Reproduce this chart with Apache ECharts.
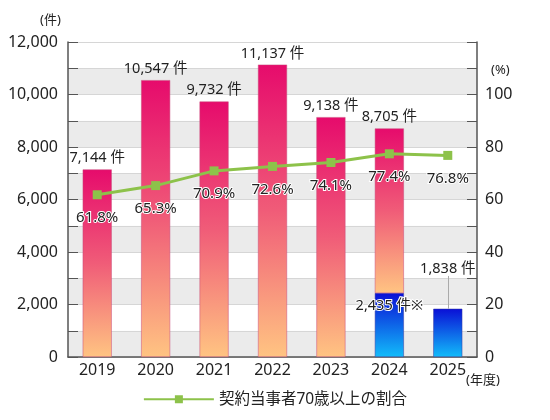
<!DOCTYPE html>
<html><head><meta charset="utf-8">
<script src="https://cdn.jsdelivr.net/npm/echarts@6/dist/echarts.min.js"></script>
<style>html,body{margin:0;padding:0;background:#fff}#c{width:550px;height:420px}</style>
</head><body><div id="c"></div>
<script>
const years = ['2019','2020','2021','2022','2023','2024','2025'];
const totalCases = [7144, 10547, 9732, 11137, 9138, 8705, null];
const blueCases = [null, null, null, null, null, 2435, 1838];
const ratio70 = [61.8, 65.3, 70.9, 72.6, 74.1, 77.4, 76.8];
const leftTicks = [0, 2000, 4000, 6000, 8000, 10000, 12000];
const rightTicks = [0, 20, 40, 60, 80, 100];

const FONT = '"Noto Sans", "Noto Sans CJK JP", sans-serif';
const pinkData = totalCases.map((v, i) => v == null ? null : (blueCases[i] != null ? v - blueCases[i] : v));
const fmt = v => v.toLocaleString('en-US');

const chart = echarts.init(document.getElementById('c'));
chart.setOption({
  animation: false,
  textStyle: { fontFamily: FONT, color: '#222' },
  grid: { left: 68, right: 73, top: 42, bottom: 63 },
  legend: {
    bottom: 8, left: 'center', itemWidth: 70, itemHeight: 10,
    itemGap: 10,
    textStyle: { fontSize: 15.5, color: '#222', fontFamily: FONT },
    data: ['契約当事者70歳以上の割合']
  },
  xAxis: {
    type: 'category', data: years, boundaryGap: true,
    axisLine: { lineStyle: { color: '#555', width: 1.5 } },
    axisTick: { inside: true, length: 8, lineStyle: { color: '#555' } },
    axisLabel: { fontSize: 16, color: '#222', margin: 5, fontFamily: FONT }
  },
  yAxis: [
    {
      type: 'value', min: 0, max: 12000, interval: 1000,
      axisLine: { show: true, lineStyle: { color: '#555', width: 1.5 } },
      axisTick: { show: true, inside: true, length: 10, lineStyle: { color: '#555' } },
      axisLabel: { fontSize: 16, color: '#222', margin: 10, fontFamily: FONT,
        formatter: v => leftTicks.includes(v) ? fmt(v) : '' },
      splitLine: { show: true, lineStyle: { color: '#d6d6d6' } },
      splitArea: { show: true, areaStyle: { color: ['#ebebeb', '#ffffff'] } }
    },
    {
      type: 'value', min: 0, max: 120, interval: 10, position: 'right',
      axisLine: { show: true, lineStyle: { color: '#555', width: 1.5 } },
      axisTick: { show: true, inside: true, length: 10, lineStyle: { color: '#555' } },
      axisLabel: { fontSize: 16, color: '#222', margin: 8, fontFamily: FONT,
        formatter: v => rightTicks.includes(v) ? String(v) : '' },
      splitLine: { show: false }
    }
  ],
  graphic: [
    { type: 'text', left: 40, top: 14, style: { text: '(件)', fontSize: 13, fill: '#222', fontFamily: FONT } },
    { type: 'text', left: 491, top: 64, style: { text: '(%)', fontSize: 13, fill: '#222', fontFamily: FONT } },
    { type: 'text', left: 466, top: 374, style: { text: '(年度)', fontSize: 13, fill: '#222', fontFamily: FONT } }
  ],
  series: [
    {
      name: 'blue', type: 'bar', stack: 'a', barWidth: 29,
      data: blueCases.map((v, i) => {
        if (v == null) return null;
        if (i === 5) return { value: v, label: { show: true, position: 'insideTop', distance: 6,
          formatter: () => fmt(v) + ' 件※', fontSize: 14.5, color: '#222', textBorderColor: '#fff', textBorderWidth: 2 } };
        return { value: v, label: { show: true, position: 'top', distance: 33,
          formatter: () => fmt(v) + ' 件', fontSize: 14.5, color: '#222' } };
      }),
      itemStyle: {
        color: new echarts.graphic.LinearGradient(0, 0, 0, 1, [
          { offset: 0, color: '#0a0fd6' }, { offset: 1, color: '#12bcfa' }]),
        borderColor: '#3a3aa0', borderWidth: 0.5
      },
      z: 3
    },
    {
      name: 'pink', type: 'bar', stack: 'a', barWidth: 29,
      data: pinkData.map((v, i) => v == null ? null : {
        value: v,
        label: { show: true, position: 'top', distance: 4, formatter: () => fmt(totalCases[i]) + ' 件',
          fontSize: 14.5, color: '#222' }
      }),
      itemStyle: {
        color: new echarts.graphic.LinearGradient(0, 0, 0, 1, [
          { offset: 0, color: '#e60b6c' }, { offset: 0.5, color: '#f05c78' }, { offset: 1, color: '#ffc482' }]),
        borderColor: '#c84a7a', borderWidth: 0.5
      },
      z: 3
    },
    {
      name: 'leader', type: 'bar', stack: 'a', barWidth: 1, silent: true,
      data: blueCases.map((v, i) => (i === 6 ? 0 : null)),
      markLine: {
        silent: true, symbol: 'none', label: { show: false },
        lineStyle: { color: '#aaaaaa', type: 'solid', width: 1 },
        data: [[{ coord: [years[6], blueCases[6]] }, { coord: [years[6], blueCases[6] + 1250] }]]
      },
      z: 2
    },
    {
      name: '契約当事者70歳以上の割合', type: 'line', yAxisIndex: 1, data: ratio70,
      symbol: 'rect', symbolSize: 9,
      lineStyle: { color: '#8dc24a', width: 3 },
      itemStyle: { color: '#8dc24a' },
      label: { show: true, position: 'bottom', distance: 11, formatter: p => p.value.toFixed(1) + '%',
        fontSize: 15, color: '#222', textBorderColor: '#fff', textBorderWidth: 2 },
      z: 5
    }
  ]
});
</script></body></html>
